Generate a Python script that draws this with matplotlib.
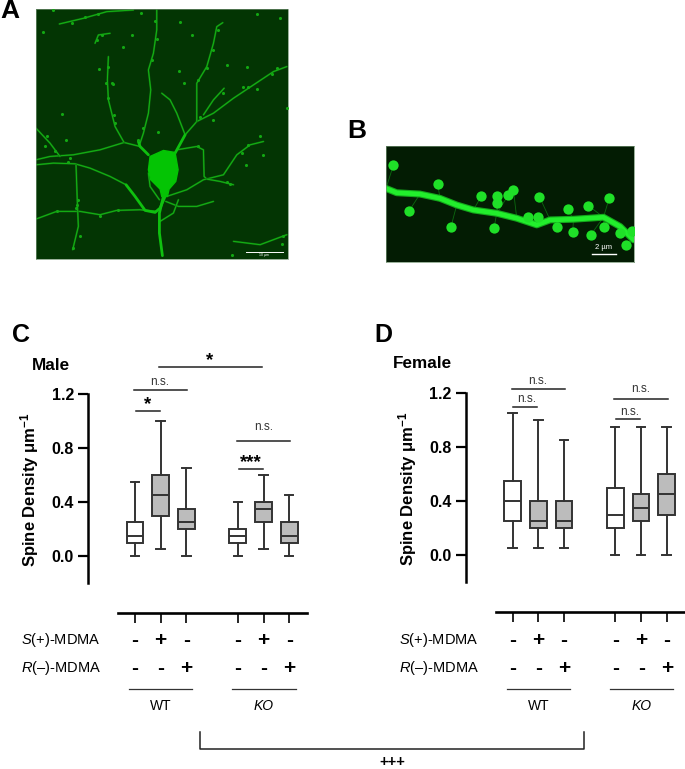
import matplotlib
matplotlib.use("Agg")
import matplotlib.pyplot as plt
from matplotlib.patches import Polygon

plt.rcParams['font.family'] = ['Liberation Sans', 'DejaVu Sans']
plt.rcParams['mathtext.fontset'] = 'custom'
plt.rcParams['mathtext.rm'] = 'Liberation Sans'
plt.rcParams['mathtext.it'] = 'Liberation Sans:italic'
plt.rcParams['mathtext.bf'] = 'Liberation Sans:bold'

W, H = 685, 769

# box values: low whisker, q1, median, q3, high whisker
male_low = [0.0, 0.05, 0.0, 0.0, 0.05, 0.0]
male_q1 = [0.10, 0.30, 0.20, 0.10, 0.25, 0.10]
male_med = [0.15, 0.45, 0.25, 0.15, 0.35, 0.15]
male_q3 = [0.25, 0.60, 0.35, 0.20, 0.40, 0.25]
male_high = [0.55, 1.0, 0.65, 0.40, 0.60, 0.45]

female_low = [0.05, 0.05, 0.05, 0.0, 0.0, 0.0]
female_q1 = [0.25, 0.20, 0.20, 0.20, 0.25, 0.30]
female_med = [0.40, 0.25, 0.25, 0.30, 0.35, 0.45]
female_q3 = [0.55, 0.40, 0.40, 0.50, 0.45, 0.60]
female_high = [1.05, 1.0, 0.85, 0.95, 0.95, 0.95]

groups = [0, 1, 2, 4, 5, 6]
s_signs = ['-', '+', '-', '-', '+', '-']
r_signs = ['-', '-', '+', '-', '-', '+']
y_ticks = [0.0, 0.4, 0.8, 1.2]

# micrograph A, traced in crop pixels
neuron_thick = [
    [(490, 590), (478, 640), (478, 700), (487, 768)],
    [(495, 590), (480, 625), (465, 638), (435, 632), (405, 590), (378, 555)],
    [(445, 465), (420, 440), (415, 425)],
    [(525, 460), (555, 405)],
]
neuron_thin = [
    [(378, 555), (330, 530), (270, 505), (225, 492), (160, 490), (108, 495)],
    [(420, 440), (372, 428), (300, 450), (220, 465), (150, 470), (108, 480)],
    [(420, 430), (430, 400), (445, 340), (452, 270), (445, 210), (460, 160), (470, 90), (470, 30)],
    [(372, 428), (345, 380), (325, 300), (322, 240), (325, 170)],
    [(555, 405), (590, 365), (640, 340), (700, 295), (760, 255), (820, 215), (860, 200)],
    [(555, 405), (530, 340), (510, 300), (485, 280)],
    [(590, 365), (590, 250), (620, 200), (640, 130), (650, 80), (668, 68)],
    [(610, 345), (640, 300), (672, 265)],
    [(530, 450), (590, 440), (610, 450), (612, 530), (620, 538)],
    [(500, 590), (560, 570), (610, 540), (670, 525), (710, 465), (750, 435), (790, 425)],
    [(620, 538), (660, 545), (700, 555)],
    [(497, 605), (535, 620), (590, 620), (640, 605)],
    [(480, 665), (520, 640), (535, 600)],
    [(470, 635), (420, 630), (350, 632), (300, 645), (240, 635), (170, 635), (108, 658)],
    [(228, 495), (232, 610), (235, 680), (218, 750)],
    [(445, 520), (450, 560), (478, 600)],
    [(178, 72), (250, 55), (320, 35), (400, 30)],
    [(285, 130), (295, 105), (330, 100)],
    [(108, 385), (150, 430), (180, 470)],
    [(700, 725), (780, 735), (860, 705)],
]
soma = [(450, 470), (490, 452), (525, 458), (534, 510), (527, 545), (507, 568),
        (502, 590), (485, 590), (480, 568), (452, 540), (445, 510)]
a_spots = [(135, 440), (198, 420), (232, 615), (298, 208), (318, 248), (338, 252),
           (370, 142), (395, 105), (423, 38), (538, 213), (552, 248), (770, 42),
           (790, 467), (695, 765), (845, 732), (850, 710), (342, 345), (255, 50),
           (160, 30), (130, 95), (740, 200), (745, 262), (680, 195), (840, 55),
           (475, 395), (540, 65), (575, 105), (187, 342), (738, 495), (860, 325),
           (215, 68), (295, 42), (465, 62), (470, 118), (455, 180), (640, 150),
           (655, 90), (620, 205), (595, 240), (325, 200), (335, 250), (325, 295),
           (345, 370), (140, 410), (165, 455), (210, 475), (205, 488), (290, 120),
           (305, 105), (730, 262), (770, 268), (830, 205), (815, 222), (780, 410),
           (745, 435), (725, 460), (690, 552), (680, 548), (235, 600), (228, 625),
           (240, 708), (218, 745), (170, 635), (300, 648), (355, 630), (595, 440),
           (600, 350), (640, 360), (670, 280), (430, 385), (415, 420)]

# micrograph B, traced in crop pixels
dendrite = [(138, 235), (170, 248), (240, 252), (300, 265), (350, 285), (400, 300),
            (470, 310), (530, 325), (590, 345), (630, 330), (700, 328), (790, 322),
            (840, 350), (880, 390)]
spine_heads = [(160, 165), (293, 222), (207, 303), (333, 350), (424, 258), (472, 258),
               (470, 278), (505, 255), (520, 240), (598, 260), (462, 353), (565, 322),
               (593, 320), (652, 350), (698, 365), (683, 298), (745, 287), (752, 375),
               (807, 265), (792, 352), (857, 405), (840, 368), (875, 362)]

fig = plt.figure(figsize=(W / 100, H / 100), dpi=100)


def px_axes(left, top, right, bottom):
    return fig.add_axes([left / W, 1 - bottom / H, (right - left) / W, (bottom - top) / H])


# panel A
a = px_axes(36, 9, 287.5, 259)
a.set_facecolor('#033503')
a.set_xlim(108, 862)
a.set_ylim(778, 27)
for b in neuron_thin:
    a.plot(*zip(*b), color='#0c6e0c', lw=1.4, solid_capstyle='round')
    a.plot(*zip(*b), color='#15b415', lw=0.7, solid_capstyle='round')
for b in neuron_thick:
    a.plot(*zip(*b), color='#0fc00f', lw=2.0, solid_capstyle='round')
a.add_patch(Polygon(soma, color='#04c404', lw=1, zorder=3))
a.scatter(*zip(*a_spots), s=5, color='#12a812', linewidths=0, zorder=3)
a.plot([737, 848], [757, 757], color='white', lw=0.7)
a.text(792, 765, '10 µm', color='white', fontsize=2.5, ha='center', va='center')
a.set_xticks([])
a.set_yticks([])
for s in a.spines.values():
    s.set_color('#6f8f6f')
    s.set_linewidth(0.5)

# panel B
c = px_axes(386, 146, 633.5, 262)
c.set_facecolor('#031c03')
c.set_xlim(138, 880)
c.set_ylim(457, 107)
for x, y in spine_heads:
    near = min(dendrite, key=lambda p: (p[0] - x) ** 2 + (p[1] - y) ** 2)
    c.plot([x, near[0]], [y, near[1]], color='#0c6a10', lw=0.6)
c.plot(*zip(*dendrite), color='#14a81c', lw=5.0, solid_capstyle='round')
c.plot(*zip(*dendrite), color='#22ee2c', lw=3.4, solid_capstyle='round')
c.scatter(*zip(*spine_heads), s=55, color='#1fe028', linewidths=0, zorder=3)
c.plot([755, 828], [432, 432], color='white', lw=1.0)
c.text(790, 413, '2 µm', color='white', fontsize=5.5, ha='center', va='center')
c.set_xticks([])
c.set_yticks([])
for s in c.spines.values():
    s.set_color('#6f8f6f')
    s.set_linewidth(0.5)


def box_panel(left, top, right, bottom, low, q1, med, q3, high):
    ax = px_axes(left, top, right, bottom)
    stats = []
    for i in range(len(groups)):
        stats.append({'whislo': low[i], 'q1': q1[i], 'med': med[i], 'q3': q3[i], 'whishi': high[i]})
    line = dict(color='#333333', linewidth=1.4)
    parts = ax.bxp(stats, positions=groups, widths=0.65, patch_artist=True, showfliers=False,
                   boxprops=dict(edgecolor='#333333', linewidth=1.4), medianprops=line,
                   whiskerprops=line, capprops=line, capwidths=0.33)
    for i, b in enumerate(parts['boxes']):
        b.set_facecolor('white' if i in (0, 3) else '#bcbcbc')
    return ax


def finish_axis(ax, x_lo, x_hi):
    ax.set_ylim(-0.2, 1.2)
    ax.set_yticks(y_ticks)
    ax.set_yticklabels(['%.1f' % t for t in y_ticks], fontweight='bold', fontsize=11.5)
    ax.set_xticks(groups)
    ax.set_xticklabels([])
    ax.patch.set_alpha(0)
    ax.spines['top'].set_visible(False)
    ax.spines['right'].set_visible(False)
    ax.spines['left'].set_linewidth(1.8)
    ax.spines['bottom'].set_linewidth(1.9)
    ax.spines['bottom'].set_position(('outward', 21.6))
    ax.spines['bottom'].set_bounds(x_lo, x_hi)
    ax.tick_params(axis='y', length=7, width=1.6, pad=3)
    ax.tick_params(axis='x', length=7, width=1.2)


ax_c = box_panel(88, 394, 306.7, 583.3, male_low, male_q1, male_med, male_q3, male_high)
ax_c.set_xlim(-1.83, 6.68)
finish_axis(ax_c, -0.66, 6.68)

ax_d = box_panel(465.7, 393, 684, 582, female_low, female_q1, female_med, female_q3, female_high)
ax_d.set_xlim(-1.83, 6.68)
finish_axis(ax_d, -0.65, 6.68)

# overlay in pixels for labels and brackets
o = fig.add_axes([0, 0, 1, 1])
o.set_xlim(0, W)
o.set_ylim(H, 0)
o.axis('off')
o.patch.set_alpha(0)

for txt, x, y, size in [('A', 10, 11, 19), ('B', 357, 131, 19), ('C', 21, 335, 18), ('D', 383, 335, 18)]:
    o.text(x, y, txt, fontsize=size, fontweight='bold', ha='center', va='center')

o.text(51, 366, 'Male', fontsize=12.3, fontweight='bold', ha='center', va='center')
o.text(422, 364, 'Female', fontsize=12.3, fontweight='bold', ha='center', va='center')
for x, y in [(30, 489.5), (408, 488.5)]:
    o.text(x, y, r'Spine Density μm$\mathbf{^{-1}}$', fontsize=12, fontweight='bold',
           rotation=90, ha='center', va='center')


def bracket(x0, x1, y, txt, tx, ty, stars=False):
    o.plot([x0, x1], [y, y], color='#222222', lw=1.1)
    if stars:
        o.text(tx, ty, txt, fontsize=13.5, fontweight='bold', ha='center', va='center')
    else:
        o.text(tx, ty, txt, fontsize=8.5, color='#333333', ha='center', va='center')


bracket(158.7, 262, 366.7, '*', 210, 361, True)
bracket(134, 187, 390, 'n.s.', 160, 382)
bracket(135.7, 160, 411, '*', 148, 405, True)
bracket(237, 290, 441, 'n.s.', 263.7, 427)
bracket(238.7, 263, 469, '***', 250.7, 463, True)

bracket(511.7, 564.7, 389, 'n.s.', 537.7, 381)
bracket(513, 537, 407.3, 'n.s.', 527, 399)
bracket(614, 667.7, 398.7, 'n.s.', 641, 389)
bracket(616, 640, 419, 'n.s.', 630, 412)


def treatment_table(x0, s_x, wt, ko):
    for i, g in enumerate(groups):
        x = x0 + 25.7 * g
        o.text(x, 640, s_signs[i], fontsize=15, fontweight='bold', ha='center', va='center')
        o.text(x, 668, r_signs[i], fontsize=15, fontweight='bold', ha='center', va='center')
    o.text(s_x, 640, r'$\mathit{S}$(+)-MDMA', fontsize=10.5, ha='left', va='center')
    o.text(s_x, 668, r'$\mathit{R}$(–)-MDMA', fontsize=10.5, ha='left', va='center')
    o.plot(wt, [689, 689], color='#333333', lw=0.9)
    o.plot(ko, [689, 689], color='#333333', lw=0.9)
    o.text(sum(wt) / 2, 706, 'WT', fontsize=10, ha='center', va='center')
    o.text(sum(ko) / 2, 706, 'KO', fontsize=10, style='italic', ha='center', va='center')


treatment_table(135, 21, [129, 192], [232, 296])
treatment_table(512.7, 399, [507, 570], [610, 673])

o.plot([200, 200, 584.5, 584.5], [732, 749, 749, 732], color='#222222', lw=1.1)
o.text(392, 762, '+++', fontsize=10.5, fontweight='bold', ha='center', va='center')

fig.savefig('out.png', dpi=100)
